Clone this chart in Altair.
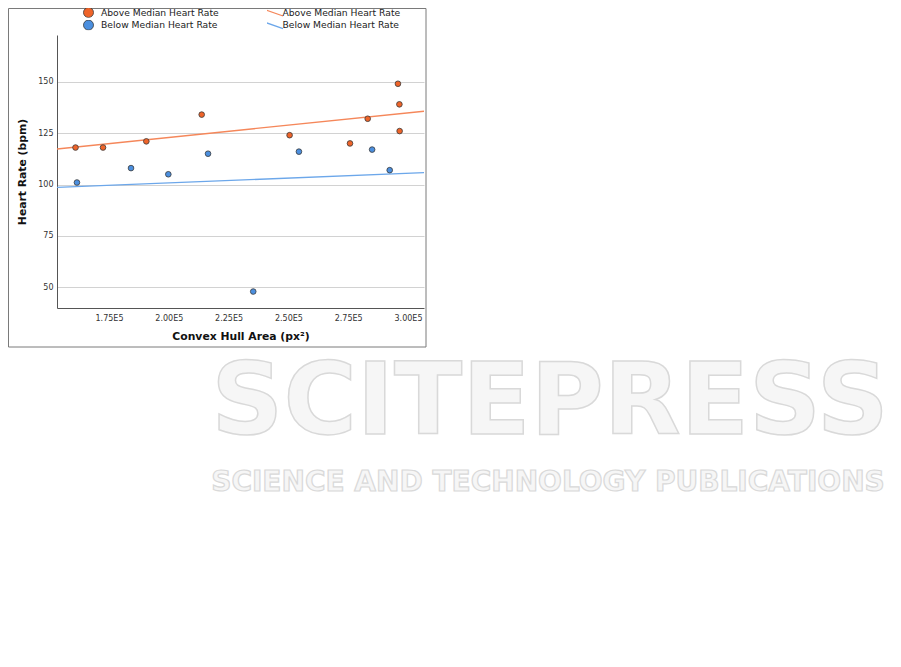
import altair as alt
import pandas as pd

# ---- data ----
groups = ["Above Median Heart Rate", "Below Median Heart Rate"]
above_x = [161000, 172500, 190600, 213750, 250500, 275750, 283150, 295800, 296400, 296500]
above_y = [118, 118, 121, 134, 124, 120, 132, 149, 139, 126]
below_x = [161600, 184200, 199800, 216400, 235300, 254400, 285000, 292350]
below_y = [101, 108, 105, 115, 48, 116, 117, 107]
x_ticks = [175000, 200000, 225000, 250000, 275000, 300000]
y_ticks = [50, 75, 100, 125, 150]
x_domain = [153260, 306690]
y_domain = [40, 172.7]
point_colors = ["#ef6429", "#4b8fdf"]
line_colors = ["#f5875a", "#6ca7ea"]
watermark_texts = ["SCITEPRESS", "SCIENCE AND TECHNOLOGY PUBLICATIONS"]

df = pd.DataFrame({
    "x": above_x + below_x,
    "y": above_y + below_y,
    "group": [groups[0]] * len(above_x) + [groups[1]] * len(below_x),
})

FONT = "DejaVu Sans"

x_enc = alt.X(
    "x:Q",
    scale=alt.Scale(domain=x_domain, nice=False, zero=False),
    axis=alt.Axis(
        values=x_ticks,
        labelExpr="format(datum.value / 100000, '.2f') + 'E5'",
        title="Convex Hull Area (px²)",
        grid=False, ticks=False,
        labelPadding=6, titlePadding=8,
        labelFontSize=8, titleFontSize=10.8, titleFontWeight="bold",
    ),
)
y_enc = alt.Y(
    "y:Q",
    scale=alt.Scale(domain=y_domain, nice=False, zero=False),
    axis=alt.Axis(
        values=y_ticks,
        title="Heart Rate (bpm)",
        grid=True, ticks=False,
        labelPadding=4, titlePadding=10,
        labelFontSize=8, titleFontSize=10.8, titleFontWeight="bold",
    ),
)

frame = alt.Chart(pd.DataFrame({"k": [0]})).mark_rect(
    fill="transparent", stroke="#7a7a7a", strokeWidth=1
).encode(
    x=alt.value(-48.5), x2=alt.value(369), y=alt.value(-26.5), y2=alt.value(312)
)

wm1 = alt.Chart(pd.DataFrame({"t": [watermark_texts[0]]})).mark_text(
    font=FONT, fontSize=100, fontWeight="bold", fill="#f6f6f6", stroke="#d9d9d9",
    strokeWidth=1.5, align="center", baseline="middle"
).encode(text="t:N", x=alt.value(493), y=alt.value(369))

wm2 = alt.Chart(pd.DataFrame({"t": [watermark_texts[1]]})).mark_text(
    font=FONT, fontSize=28, fontWeight="bold", fill="#f6f6f6", stroke="#d9d9d9",
    strokeWidth=1.2, align="center", baseline="middle"
).encode(text="t:N", x=alt.value(491), y=alt.value(448))

lines = alt.Chart(df).transform_regression(
    "x", "y", groupby=["group"], extent=x_domain
).mark_line(strokeWidth=1.3, clip=True).encode(
    x=x_enc,
    y=y_enc,
    color=alt.Color(
        "group:N",
        scale=alt.Scale(domain=groups, range=line_colors),
        legend=alt.Legend(
            title=None, orient="none", legendX=210, legendY=-27.5,
            direction="vertical",
            symbolType="M-2,-0.7L2,0.7", symbolSize=100, symbolStrokeWidth=1.3,
            labelOffset=3.5, labelFontSize=9.2, labelFont=FONT, labelColor="#222",
            rowPadding=1.6, clipHeight=10,
        ),
    ),
)

points = alt.Chart(df).mark_circle(
    size=32, opacity=1, stroke="#3a3a3a", strokeWidth=0.8
).encode(
    x=x_enc,
    y=y_enc,
    color=alt.Color(
        "group:N",
        scale=alt.Scale(domain=groups, range=point_colors),
        legend=alt.Legend(
            title=None, orient="none", legendX=26, legendY=-27.5,
            direction="vertical",
            symbolType="circle", symbolSize=100,
            symbolStrokeColor="#3a3a3a", symbolStrokeWidth=0.8,
            labelOffset=7, labelFontSize=9.2, labelFont=FONT, labelColor="#222",
            rowPadding=1.6, clipHeight=10,
        ),
    ),
)

chart = alt.layer(frame, wm1, wm2, lines, points).resolve_scale(
    color="independent"
).properties(
    width=367,
    height=273,
    autosize=alt.AutoSizeParams(type="none"),
    padding={"left": 49, "top": 27, "right": 464, "bottom": 345},
).configure_view(
    stroke=None
).configure_axis(
    domainColor="#555555", domainWidth=1,
    gridColor="#d2d2d2", gridWidth=1,
    labelColor="#333333", titleColor="#111111",
    labelFont=FONT, titleFont=FONT,
)

chart.save("out.html", embed_options={"renderer": "svg", "actions": False})
